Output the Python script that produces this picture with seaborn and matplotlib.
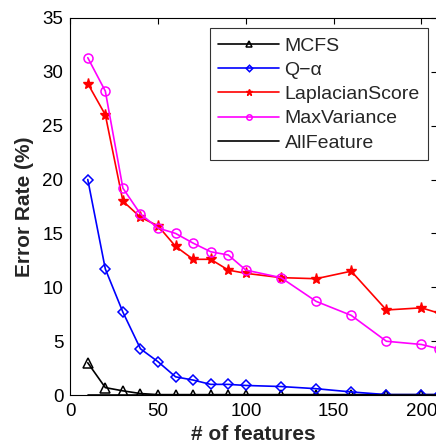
import numpy as np
import pandas as pd
import matplotlib
matplotlib.use("Agg")
import matplotlib.pyplot as plt
import seaborn as sns

sns.set_style("white")
plt.rcParams['font.family'] = ['Liberation Sans', 'DejaVu Sans']

x_feat = [10, 20, 30, 40, 50, 60, 70, 80, 90, 100, 120, 140, 160, 180, 200, 210]
mcfs = [3.0, 0.7, 0.4, 0.15, 0.05, 0.05, 0.05, 0.05, 0.05, 0.05, 0.05, 0.05, 0.05, 0.05, 0.05, 0.05]
q_alpha = [20.0, 11.7, 7.7, 4.3, 3.1, 1.7, 1.4, 1.0, 1.0, 0.9, 0.8, 0.6, 0.3, 0.05, 0.05, 0.05]
laplacian = [28.9, 26.0, 18.0, 16.5, 15.7, 13.8, 12.6, 12.6, 11.6, 11.3, 10.9, 10.8, 11.5, 7.9, 8.1, 7.6]
maxvar = [31.3, 28.2, 19.2, 16.8, 15.5, 15.0, 14.1, 13.3, 13.0, 11.6, 10.9, 8.7, 7.4, 5.0, 4.7, 4.3]
allfeature = [0.0] * len(x_feat)

series = [
    ("MCFS", mcfs, "black", "^", dict(mfc="none", ms=6.5, mew=1.1)),
    ("Q\u2212\u03b1", q_alpha, "blue", "D", dict(mfc="none", ms=5.5, mew=1.1)),
    ("LaplacianScore", laplacian, "red", "*", dict(ms=8, mew=1.0)),
    ("MaxVariance", maxvar, "magenta", "o", dict(mfc="none", ms=6.5, mew=1.1)),
    ("AllFeature", allfeature, "black", None, dict()),
]

fig = plt.figure(figsize=(4.36, 4.45), dpi=100)
ax = fig.add_axes([0.161, 0.112, 0.842, 0.848])

for name, vals, col, mk, kw in series:
    df = pd.DataFrame({"x": x_feat, "y": vals})
    sns.lineplot(data=df, x="x", y="y", ax=ax, color=col, marker=mk,
                 markeredgecolor=col, label=name, lw=1.2, clip_on=True, **kw)

ax.set_xlim(0, 209)
ax.set_ylim(0, 35)
ax.set_xticks([0, 50, 100, 150, 200])
ax.set_yticks(np.arange(0, 36, 5))
ax.tick_params(direction="in", top=True, right=True, labelsize=13.5, length=4, width=0.8, colors="black")
ax.tick_params(axis="x", pad=6)
ax.tick_params(axis="y", pad=5)
for s in ax.spines.values():
    s.set_color("black")
    s.set_linewidth(0.8)
ax.set_xlabel("# of features", fontsize=15, fontweight="bold", labelpad=3)
ax.set_ylabel("Error Rate (%)", fontsize=15, fontweight="bold", labelpad=6)

leg = ax.legend(loc="upper right", bbox_to_anchor=(0.976, 0.972), fontsize=14,
                frameon=True, fancybox=False, edgecolor="black", handlelength=3.1,
                labelspacing=0.34, borderpad=0.45, handletextpad=0.3, markerscale=0.6,
                borderaxespad=0)
leg.get_frame().set_linewidth(0.8)

fig.savefig("out.png", dpi=100)
